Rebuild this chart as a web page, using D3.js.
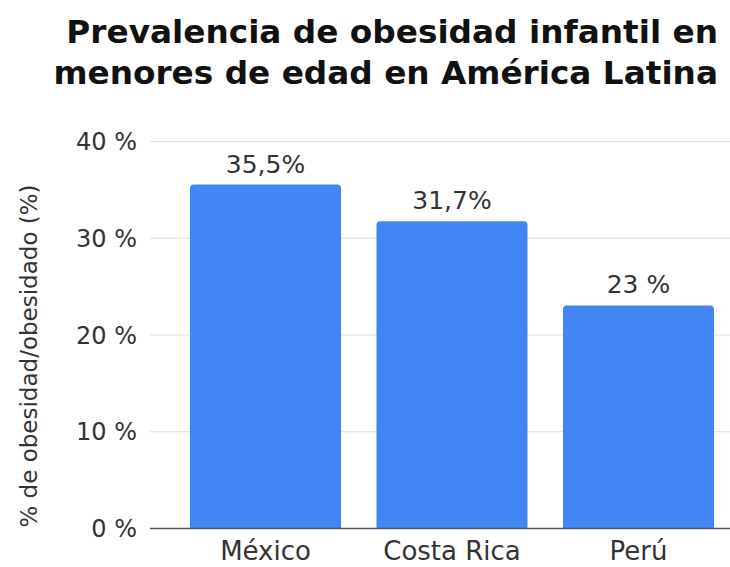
<!DOCTYPE html>
<html>
<head>
<meta charset="utf-8">
<script src="https://cdn.jsdelivr.net/npm/d3@7/dist/d3.min.js"></script>
<style>
  html, body { margin: 0; padding: 0; background: #fff; }
  svg { display: block; font-family: "DejaVu Sans", sans-serif; }
</style>
</head>
<body>
<svg id="chart" width="730" height="567"></svg>
<script>
// Chart data
const categories = ["México", "Costa Rica", "Perú"];
const values = [35.5, 31.7, 23];
const valueLabels = ["35,5%", "31,7%", "23 %"];
const tickValues = [0, 10, 20, 30, 40];
const tickLabels = ["0 %", "10 %", "20 %", "30 %", "40 %"];
const titleLines = ["Prevalencia de obesidad infantil en", "menores de edad en América Latina"];
const yTitle = "% de obesidad/obesidado (%)";

const svg = d3.select("#chart");

const plot = { left: 150, right: 730, top: 141, bottom: 528 };

const x = d3.scaleBand()
  .domain(categories)
  .range([150, 754])
  .paddingInner(0.19)
  .paddingOuter(0.2145);

const y = d3.scaleLinear()
  .domain([0, 40])
  .range([plot.bottom, plot.top]);

// Title, sized so the longer line spans the header
const title = svg.append("g")
  .attr("font-weight", "bold")
  .attr("fill", "#111")
  .attr("text-anchor", "end");
const tl = title.selectAll("text")
  .data(titleLines)
  .join("text")
  .attr("x", 718)
  .attr("y", (d, i) => [43, 84][i])
  .attr("font-size", 28)
  .text(d => d);
const widest = d3.max(tl.nodes(), n => n.getComputedTextLength());
tl.attr("font-size", 28 * 665 / widest);

// Gridlines
svg.append("g")
  .selectAll("line")
  .data(tickValues.filter(d => d > 0))
  .join("line")
  .attr("x1", plot.left)
  .attr("x2", plot.right)
  .attr("y1", d => y(d) + 0.5)
  .attr("y2", d => y(d) + 0.5)
  .attr("stroke", "#dcdcdc")
  .attr("stroke-width", 1);

// Y axis labels
const yAxis = d3.axisLeft(y)
  .tickValues(tickValues)
  .tickFormat((d, i) => tickLabels[i])
  .tickSize(0)
  .tickPadding(13);
const ya = svg.append("g")
  .attr("transform", `translate(${plot.left},0)`)
  .call(yAxis);
ya.select(".domain").remove();
ya.selectAll("text")
  .attr("font-family", "DejaVu Sans, sans-serif")
  .attr("font-size", 24)
  .attr("fill", "#333")
  .attr("dy", "0.36em");

// Bars with rounded top corners
const r = 4;
function barPath(d, i) {
  const x0 = x(categories[i]), w = x.bandwidth();
  const y0 = y(d), y1 = y(0);
  return `M${x0},${y1}V${y0 + r}Q${x0},${y0} ${x0 + r},${y0}H${x0 + w - r}Q${x0 + w},${y0} ${x0 + w},${y0 + r}V${y1}Z`;
}
svg.append("g")
  .selectAll("path")
  .data(values)
  .join("path")
  .attr("d", barPath)
  .attr("fill", "#4285f4");

// Baseline
svg.append("line")
  .attr("x1", plot.left)
  .attr("x2", plot.right)
  .attr("y1", y(0) + 0.5)
  .attr("y2", y(0) + 0.5)
  .attr("stroke", "#555")
  .attr("stroke-width", 1.5);

// Value labels
svg.append("g")
  .selectAll("text")
  .data(values)
  .join("text")
  .attr("x", (d, i) => x(categories[i]) + x.bandwidth() / 2)
  .attr("y", d => y(d) - 12)
  .attr("text-anchor", "middle")
  .attr("font-size", 25)
  .attr("fill", "#333")
  .text((d, i) => valueLabels[i]);

// Category labels
const xAxis = d3.axisBottom(x).tickSize(0).tickPadding(0);
const xa = svg.append("g")
  .attr("transform", `translate(0,${plot.bottom})`)
  .call(xAxis);
xa.select(".domain").remove();
xa.selectAll("text")
  .attr("font-family", "DejaVu Sans, sans-serif")
  .attr("font-size", 26)
  .attr("fill", "#333")
  .attr("dy", null)
  .attr("y", 32);

// Y axis title
svg.append("text")
  .attr("transform", "translate(37,356) rotate(-90)")
  .attr("text-anchor", "middle")
  .attr("font-size", 23)
  .attr("fill", "#333")
  .text(yTitle);
</script>
</body>
</html>
